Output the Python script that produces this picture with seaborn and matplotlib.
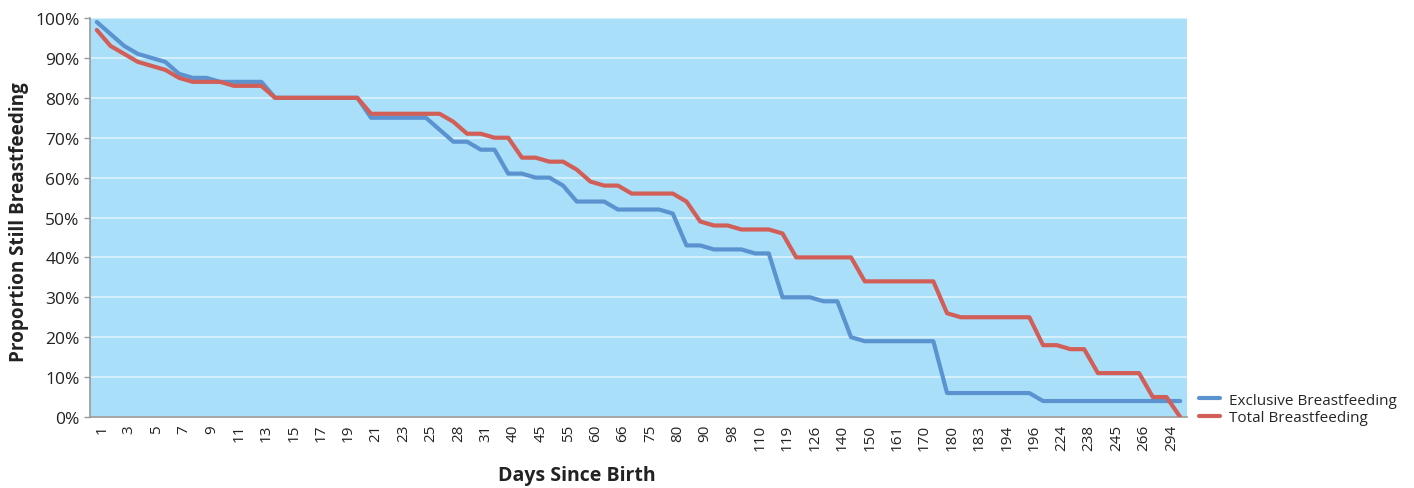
import matplotlib
matplotlib.use("Agg")
import matplotlib.pyplot as plt
import matplotlib.transforms as mtransforms
import seaborn as sns
import pandas as pd
from matplotlib.ticker import FuncFormatter

# Day categories on the x axis (every other one is labelled)
days = [1, 2, 3, 4, 5, 6, 7, 8, 9, 10, 11, 12, 13, 14, 15, 16, 17, 18, 19, 20,
        21, 22, 23, 24, 25, 26, 28, 30, 31, 35, 40, 42, 45, 50, 55, 56, 60, 63, 66, 70,
        75, 77, 80, 84, 90, 91, 98, 105, 110, 112, 119, 120, 126, 133, 140, 147, 150, 154, 161, 168,
        170, 175, 180, 182, 183, 190, 194, 195, 196, 210, 224, 231, 238, 240, 245, 252, 266, 280, 294, 300]

# Percent of infants still breastfed at each day
exclusive = [99, 96, 93, 91, 90, 89, 86, 85, 85, 84, 84, 84, 84, 80, 80, 80, 80, 80, 80, 80,
             75, 75, 75, 75, 75, 72, 69, 69, 67, 67, 61, 61, 60, 60, 58, 54, 54, 54, 52, 52,
             52, 52, 51, 43, 43, 42, 42, 42, 41, 41, 30, 30, 30, 29, 29, 20, 19, 19, 19, 19,
             19, 19, 6, 6, 6, 6, 6, 6, 6, 4, 4, 4, 4, 4, 4, 4, 4, 4, 4, 4]
total = [97, 93, 91, 89, 88, 87, 85, 84, 84, 84, 83, 83, 83, 80, 80, 80, 80, 80, 80, 80,
         76, 76, 76, 76, 76, 76, 74, 71, 71, 70, 70, 65, 65, 64, 64, 62, 59, 58, 58, 56,
         56, 56, 56, 54, 49, 48, 48, 47, 47, 47, 46, 40, 40, 40, 40, 40, 34, 34, 34, 34,
         34, 34, 26, 25, 25, 25, 25, 25, 25, 18, 18, 17, 17, 11, 11, 11, 11, 5, 5, 0]

series_names = ["Exclusive Breastfeeding", "Total Breastfeeding"]
series_colors = ["#5A93CF", "#D25E58"]

day_labels = [str(d) for d in days]
df = pd.concat([
    pd.DataFrame({"day": day_labels, "pct": exclusive, "series": series_names[0]}),
    pd.DataFrame({"day": day_labels, "pct": total, "series": series_names[1]}),
], ignore_index=True)

sns.set_theme(style="white")
plt.rcParams["font.family"] = ["Open Sans", "DejaVu Sans"]

fig = plt.figure(figsize=(14.14, 4.89), dpi=100)
ax = fig.add_axes([0.0636, 0.1452, 0.7759, 0.8159])
ax.set_facecolor("#AADFF9")

sns.lineplot(data=df, x="day", y="pct", hue="series", hue_order=series_names,
             palette=series_colors, linewidth=3, sort=False, ax=ax, zorder=3)

n = len(days)
ax.set_xlim(-0.5, n - 0.5)
ax.set_ylim(0, 100)
ax.set_yticks(range(0, 101, 10))
ax.yaxis.set_major_formatter(FuncFormatter(lambda v, p: f"{int(v)}%"))
ax.grid(axis="y", color="white", alpha=0.6, linewidth=1.2, zorder=1)
ax.set_axisbelow(True)

ax.set_xticks(range(0, n, 2))
ax.set_xticklabels(day_labels[0::2], rotation=90)
ax.set_xticks([i - 0.5 for i in range(n + 1)], minor=True)
ax.tick_params(axis="x", which="major", length=0, pad=5, labelsize=11, colors="#222222")
ax.tick_params(axis="x", which="minor", length=4, color="#999999", width=1, direction="out")
ax.tick_params(axis="y", length=4, color="#999999", width=1, labelsize=12.5,
               colors="#222222", left=True)

# nudge the rotated day labels slightly to the right
shift = mtransforms.ScaledTranslation(0.05, 0, fig.dpi_scale_trans)
for lbl in ax.get_xticklabels():
    lbl.set_transform(lbl.get_transform() + shift)

for side in ["top", "right"]:
    ax.spines[side].set_visible(False)
for side in ["left", "bottom"]:
    ax.spines[side].set_color("#999999")
    ax.spines[side].set_linewidth(1.2)

ax.set_xlabel("Days Since Birth", fontsize=14, fontweight="bold", color="#222222")
ax.xaxis.set_label_coords(0.444, -0.145, transform=ax.transAxes)
ax.xaxis.label.set_va("center")
ax.set_ylabel("Proportion Still Breastfeeding", fontsize=13.6, fontweight="bold",
              color="#222222")
ax.yaxis.set_label_coords(-0.0645, 0.49)
ax.yaxis.label.set_va("center")

handles, labels = ax.get_legend_handles_labels()
ax.legend(handles, labels, loc="lower left", bbox_to_anchor=(1.005, -0.035),
          frameon=False, fontsize=11, handlelength=1.4, handletextpad=0.6,
          labelspacing=0.15, borderaxespad=0)

fig.savefig("out.png", dpi=100, facecolor="white")
